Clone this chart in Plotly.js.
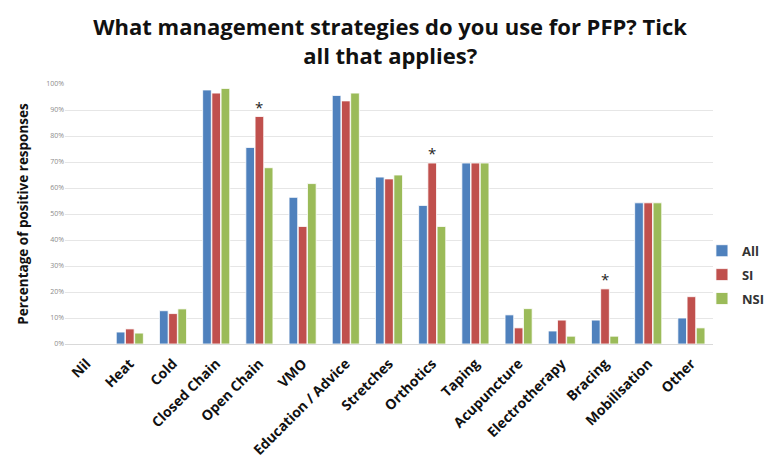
<!DOCTYPE html>
<html>
<head>
<meta charset="utf-8">
<script src="https://cdn.plot.ly/plotly-3.0.1.min.js"></script>
<style>html,body{margin:0;padding:0;background:#fff;}#chart{width:768px;height:461px;}</style>
</head>
<body>
<div id="chart"></div>
<script>
var categories = ["Nil","Heat","Cold","Closed Chain","Open Chain","VMO","Education / Advice","Stretches","Orthotics","Taping","Acupuncture","Electrotherapy","Bracing","Mobilisation","Other"];
var allValues = [0, 4.6, 12.8, 97.7, 75.6, 56.4, 95.6, 64.2, 53.3, 69.6, 11.2, 5.0, 9.2, 54.3, 10.0];
var siValues  = [0, 5.8, 11.7, 96.5, 87.5, 45.2, 93.5, 63.5, 69.6, 69.6, 6.2, 9.2, 21.2, 54.3, 18.2];
var nsiValues = [0, 4.2, 13.5, 98.3, 67.8, 61.7, 96.5, 65.0, 45.2, 69.6, 13.6, 3.0, 3.0, 54.3, 6.2];
var starCategories = ["Open Chain","Orthotics","Bracing"];
var seriesNames = ["All","SI","NSI"];
var colors = ["#4F81BD","#C0504D","#9BBB59"];

var series = [allValues, siValues, nsiValues];
var traces = series.map(function(v,i){
  return {type:'bar', name:seriesNames[i], legendgroup:seriesNames[i], x:categories, y:v,
    marker:{color:colors[i], line:{color:'#ffffff', width:0.8}}, hoverinfo:'x+y'};
});

var annotations = starCategories.map(function(c){
  var idx = categories.indexOf(c);
  return {x:c, y:siValues[idx], xref:'x', yref:'y', text:'*', showarrow:false,
    yanchor:'bottom', yshift:-2, font:{family:'Open Sans, sans-serif', size:15, color:'#222'}};
});

var layout = {
  width:768, height:461,
  margin:{l:65, r:55, t:84, b:117, autoexpand:false},
  paper_bgcolor:'#ffffff', plot_bgcolor:'#ffffff',
  title:{text:'<b>What management strategies do you use for PFP? Tick<br>all that applies?</b>',
    font:{family:'Open Sans, sans-serif', size:22, color:'#111'}, x:0.508, xanchor:'center',
    yref:'container', y:0.924, yanchor:'middle'},
  barmode:'group', bargap:0.36, bargroupgap:0.06,
  xaxis:{tickangle:-45, tickfont:{family:'Open Sans, sans-serif', size:14, color:'#111', weight:'bold'},
    ticklabelstandoff:5,
    showline:true, linecolor:'#d9d9d9', linewidth:1, ticks:'', showgrid:false, automargin:false},
  yaxis:{range:[0,100], dtick:10, ticksuffix:'%', tickfont:{family:'Open Sans, sans-serif', size:7, color:'#8c8c8c'},
    showgrid:true, gridcolor:'#e6e6e6', gridwidth:1, zeroline:false, showline:false, ticks:'', automargin:false,
    title:{text:'<b>Percentage of positive responses</b>', font:{family:'Open Sans, sans-serif', size:13.5, color:'#111'}, standoff:14}},
  legend:{xref:'container', yref:'container', x:0.914, xanchor:'left', y:0.404, yanchor:'middle',
    font:{family:'Open Sans, sans-serif', size:13, color:'#333', weight:'bold'},
    traceorder:'grouped', itemwidth:30, tracegroupgap:4, bgcolor:'rgba(0,0,0,0)'},
  annotations:annotations,
  showlegend:true
};

Plotly.newPlot('chart', traces, layout, {displayModeBar:false, staticPlot:true});
</script>
</body>
</html>
